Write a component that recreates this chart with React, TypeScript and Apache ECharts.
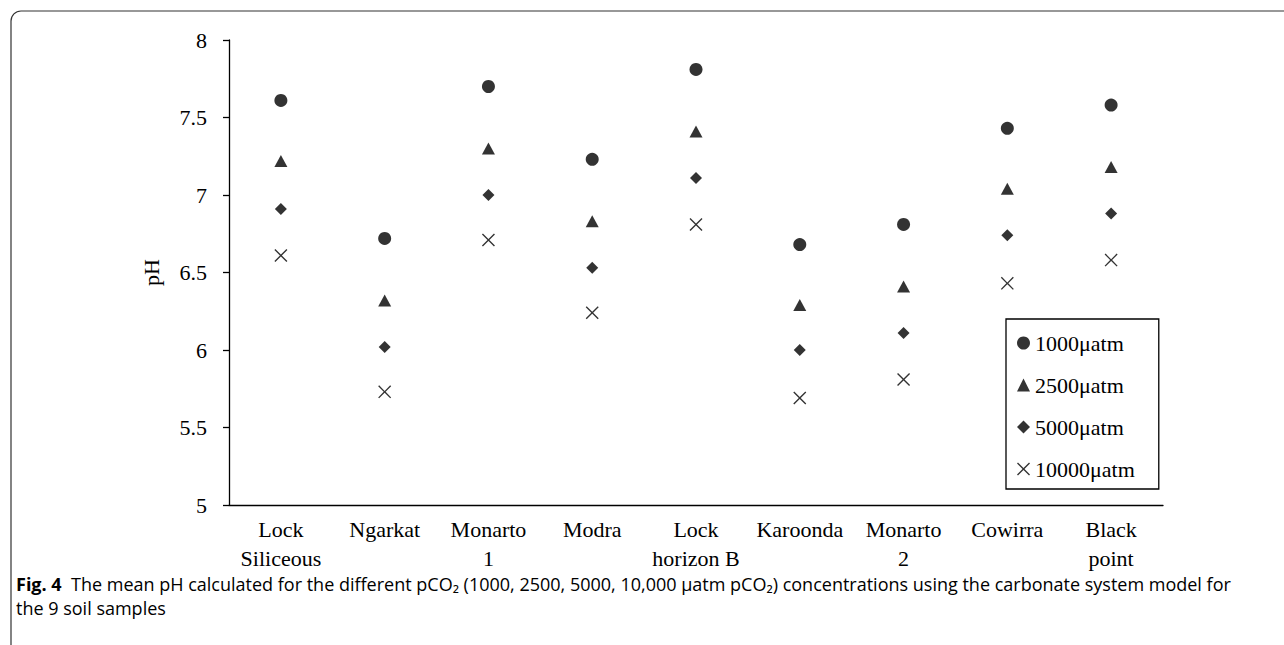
import React, { useEffect, useRef } from "react";
import * as echarts from "echarts";

const categories = [
  "Lock\nSiliceous",
  "Ngarkat",
  "Monarto\n1",
  "Modra",
  "Lock\nhorizon B",
  "Karoonda",
  "Monarto\n2",
  "Cowirra",
  "Black\npoint",
];
const seriesNames = ["1000μatm", "2500μatm", "5000μatm", "10000μatm"];
const ph1000 = [7.61, 6.72, 7.7, 7.23, 7.81, 6.68, 6.81, 7.43, 7.58];
const ph2500 = [7.22, 6.32, 7.3, 6.83, 7.41, 6.29, 6.41, 7.04, 7.18];
const ph5000 = [6.91, 6.02, 7.0, 6.53, 7.11, 6.0, 6.11, 6.74, 6.88];
const ph10000 = [6.61, 5.73, 6.71, 6.24, 6.81, 5.69, 5.81, 6.43, 6.58];
const yTicks = { min: 5, max: 8, interval: 0.5 };

const crossPath =
  "path://M0,1.5L1.5,0L10,8.5L18.5,0L20,1.5L11.5,10L20,18.5L18.5,20L10,11.5L1.5,20L0,18.5L8.5,10Z";

const serif = "'Liberation Serif', 'Times New Roman', serif";
const sans = "'Open Sans', 'Noto Sans', sans-serif";

export default function App() {
  const ref = useRef<HTMLDivElement>(null);
  useEffect(() => {
    if (!ref.current) return;
    const chart = echarts.init(ref.current, null, { renderer: "svg" });
    const values = [ph1000, ph2500, ph5000, ph10000];
    const symbols = ["circle", "triangle", "diamond", crossPath];
    const sizes: any[] = [13, [13, 12], 12, 13];
    chart.setOption({
      animation: false,
      backgroundColor: "#fff",
      grid: { left: 229, right: 121, top: 40, bottom: 140, containLabel: false },
      legend: {
        orient: "vertical",
        left: 1006,
        top: 319,
        padding: [13, 24, 9, 11],
        itemGap: 20,
        itemWidth: 13,
        itemHeight: 13,
        borderColor: "#000",
        borderWidth: 1.3,
        backgroundColor: "#fff",
        textStyle: { fontFamily: serif, fontSize: 22, color: "#000", lineHeight: 22 },
        data: seriesNames,
      },
      xAxis: {
        type: "category",
        data: categories,
        boundaryGap: true,
        axisLine: { lineStyle: { color: "#000", width: 1.3 } },
        axisTick: { alignWithLabel: false, length: 6, lineStyle: { color: "#000", width: 1.3 } },
        axisLabel: {
          interval: 0,
          color: "#000",
          fontFamily: serif,
          fontSize: 22,
          lineHeight: 29,
          margin: 10,
        },
        splitLine: { show: false },
      },
      yAxis: {
        type: "value",
        min: yTicks.min,
        max: yTicks.max,
        interval: yTicks.interval,
        name: "pH",
        nameLocation: "middle",
        nameGap: 67,
        nameRotate: 90,
        nameTextStyle: { fontFamily: serif, fontSize: 22, color: "#000" },
        axisLine: { show: true, lineStyle: { color: "#000", width: 1.3 } },
        axisTick: { show: true, length: 6, lineStyle: { color: "#000", width: 1.3 } },
        axisLabel: {
          color: "#000",
          fontFamily: serif,
          fontSize: 22,
          margin: 22,
          formatter: (v: number) => String(v),
        },
        splitLine: { show: false },
      },
      series: seriesNames.map((name, i) => ({
        name,
        type: "scatter",
        data: values[i],
        symbol: symbols[i],
        symbolSize: sizes[i],
        itemStyle: { color: "#000" },
        emphasis: { disabled: true },
      })),
      graphic: [
        {
          type: "rect",
          shape: { x: 11, y: 11, width: 1400, height: 800, r: 10 },
          style: { fill: "none", stroke: "#333", lineWidth: 1.2 },
          silent: true,
        },
        {
          type: "text",
          left: 16,
          top: 575,
          style: {
            text:
              "{b|Fig. 4}{n|  The mean pH calculated for the different pCO₂ (1000, 2500, 5000, 10,000 μatm pCO₂) concentrations using the carbonate system model for}\n{n|the 9 soil samples}",
            rich: {
              b: { fontFamily: sans, fontWeight: "bold", fontSize: 18, color: "#231f20", lineHeight: 24 },
              n: { fontFamily: sans, fontSize: 18, color: "#231f20", lineHeight: 24 },
            },
          },
        },
      ],
    });
    return () => chart.dispose();
  }, []);
  return (
    <div
      ref={ref}
      style={{ position: "fixed", left: 0, top: 0, width: 1284, height: 645, background: "#fff" }}
    />
  );
}
